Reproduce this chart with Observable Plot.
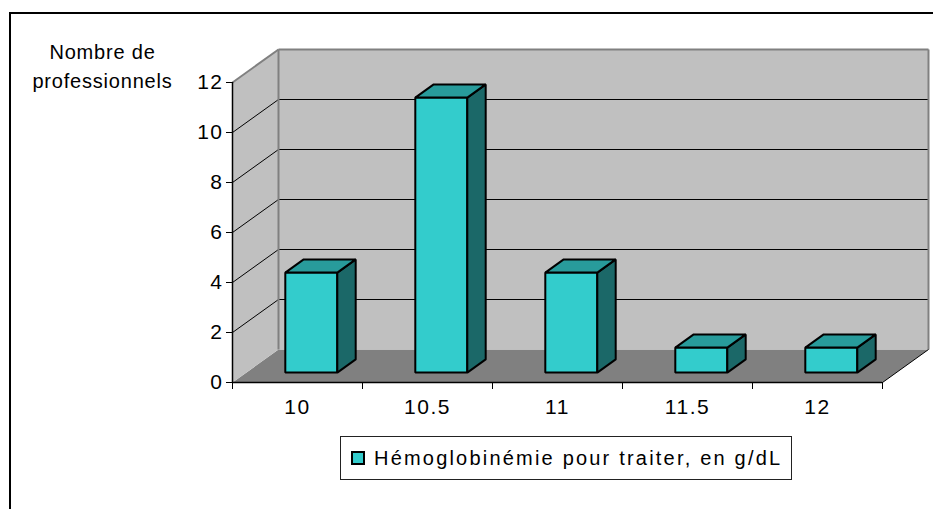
<!DOCTYPE html>
<html>
<head>
<meta charset="utf-8">
<script src="https://cdn.jsdelivr.net/npm/d3@7"></script>
<script src="https://cdn.jsdelivr.net/npm/@observablehq/plot@0.6"></script>
<style>
  html, body { margin: 0; padding: 0; background: #fff; overflow: hidden; }
  #wrap { position: relative; width: 933px; height: 509px; font-family: "Liberation Sans", Arial, sans-serif; }
  #frame { position: absolute; left: 9px; top: 12px; width: 1000px; height: 600px; border: 2px solid #000; box-sizing: border-box; }
  #chart { position: absolute; left: 0; top: 0; }
  #chart svg text { letter-spacing: 1.5px; font-size: 21px !important; }
  #ylabel { position: absolute; left: 20px; top: 38px; width: 165px; text-align: center; font-size: 20px; line-height: 29px; letter-spacing: 0.8px; color: #000; }
  #legend { position: absolute; left: 340px; top: 436px; width: 452px; height: 44px; box-sizing: border-box; border: 1px solid #222; background: #fff; display: flex; align-items: center; font-size: 20px; letter-spacing: 2.2px; color: #000; white-space: nowrap; }
  #legend .sw { width: 14px; height: 14px; box-sizing: border-box; border: 2px solid #000; background: #33CCCC; margin-left: 10px; margin-right: 9px; flex: none; }
</style>
</head>
<body>
<div id="wrap">
  <div id="frame"></div>
  <div id="chart"></div>
  <div id="ylabel"></div>
  <div id="legend"><span class="sw"></span><span id="legtext"></span></div>
</div>
<script>
// ---- data ----
const categories = ["10", "10.5", "11", "11.5", "12"];
const values = [4, 11, 4, 1, 1];
const yTicks = [0, 2, 4, 6, 8, 10, 12];
const seriesName = "Hémoglobinémie pour traiter, en g/dL";
const yTitle = ["Nombre de", "professionnels"];

document.getElementById("legtext").textContent = seriesName;
document.getElementById("ylabel").innerHTML = yTitle.join("<br>");

// ---- pseudo-3D projection constants (depth offsets, in data units) ----
const nCat = categories.length;
const yMax = yTicks[yTicks.length - 1];
const dX = 46 / 130;   // depth shift along x (fraction of a category slot)
const dY = 33 / 25;    // depth shift along y (in value units)
const f0 = 0.3, f1 = 0.7;  // bar depth span
const b0 = 0.3, b1 = 0.7;  // bar width span within slot

// walls & floor polygons
const floorPoly = [[0, 0], [nCat, 0], [nCat + dX, dY], [dX, dY]].map(([x, y]) => ({x, y}));
const leftWallPoly = [[0, 0], [dX, dY], [dX, yMax + dY], [0, yMax]].map(([x, y]) => ({x, y}));
const backWallPoly = [[dX, dY], [nCat + dX, dY], [nCat + dX, yMax + dY], [dX, yMax + dY]].map(([x, y]) => ({x, y}));

// bar faces
const frontFaces = [], sideFaces = [], topFaces = [];
values.forEach((v, i) => {
  const xl = i + b0, xr = i + b1;
  const p = (x, y, f) => ({x: x + f * dX, y: y + f * dY, id: i});
  frontFaces.push(p(xl, 0, f0), p(xr, 0, f0), p(xr, v, f0), p(xl, v, f0));
  sideFaces.push(p(xr, 0, f0), p(xr, 0, f1), p(xr, v, f1), p(xr, v, f0));
  topFaces.push(p(xl, v, f0), p(xr, v, f0), p(xr, v, f1), p(xl, v, f1));
});

const inner = yTicks.filter(t => t > 0 && t < yMax);
const slotEdges = d3.range(nCat + 1);
const slotCenters = d3.range(nCat).map(i => i + 0.5);

const chart = Plot.plot({
  width: 933,
  height: 430,
  marginLeft: 232,
  marginRight: 51,
  marginTop: 82,
  marginBottom: 48,
  style: {fontFamily: "'Liberation Sans', Arial, sans-serif", fontSize: "21px", color: "#000", background: "transparent", overflow: "visible"},
  x: {domain: [0, nCat], range: [232, 882]},
  y: {domain: [0, yMax]},
  marks: [
    // floor and walls
    Plot.line(floorPoly, {x: "x", y: "y", curve: "linear-closed", fill: "#808080", stroke: "none"}),
    Plot.line(leftWallPoly, {x: "x", y: "y", curve: "linear-closed", fill: "#c0c0c0", stroke: "none"}),
    Plot.line(backWallPoly, {x: "x", y: "y", curve: "linear-closed", fill: "#c0c0c0", stroke: "none"}),
    // gridlines
    Plot.link(inner, {x1: () => 0, y1: d => d, x2: () => dX, y2: d => d + dY, stroke: "#000", strokeWidth: 1}),
    Plot.link(inner, {x1: () => dX, y1: d => d + dY, x2: () => nCat + dX, y2: d => d + dY, stroke: "#000", strokeWidth: 1}),
    // wall edges (gray)
    Plot.link([yMax], {x1: () => 0, y1: d => d, x2: () => dX, y2: d => d + dY, stroke: "#808080", strokeWidth: 2}),
    Plot.link([yMax], {x1: () => dX, y1: d => d + dY, x2: () => nCat + dX, y2: d => d + dY, stroke: "#808080", strokeWidth: 2}),
    Plot.link([0], {x1: () => dX, y1: () => dY, x2: () => dX, y2: () => yMax + dY, stroke: "#808080", strokeWidth: 2}),
    Plot.link([0], {x1: () => nCat + dX, y1: () => dY, x2: () => nCat + dX, y2: () => yMax + dY, stroke: "#808080", strokeWidth: 2}),
    // floor right edge
    Plot.link([0], {x1: () => nCat, y1: () => 0, x2: () => nCat + dX, y2: () => dY, stroke: "#000", strokeWidth: 1}),
    // bars
    Plot.line(frontFaces, {x: "x", y: "y", z: "id", curve: "linear-closed", fill: "#33CCCC", stroke: "#000", strokeWidth: 2, strokeLinejoin: "miter"}),
    Plot.line(sideFaces, {x: "x", y: "y", z: "id", curve: "linear-closed", fill: "#1B6868", stroke: "#000", strokeWidth: 2, strokeLinejoin: "miter"}),
    Plot.line(topFaces, {x: "x", y: "y", z: "id", curve: "linear-closed", fill: "#289B9B", stroke: "#000", strokeWidth: 2, strokeLinejoin: "miter"}),
    // axes
    Plot.ruleX([0], {y1: 0, y2: yMax, stroke: "#000", strokeWidth: 1.5}),
    Plot.ruleY([0], {x1: 0, x2: nCat, stroke: "#000", strokeWidth: 1.5}),
    Plot.axisY({ticks: yTicks, tickSize: 6, tickPadding: 3, label: null}),
    Plot.axisX({ticks: slotEdges, tickSize: 7, tickFormat: () => "", label: null}),
    Plot.axisX({ticks: slotCenters, tickSize: 0, tickPadding: 17, tickFormat: d => categories[Math.round(d - 0.5)], label: null})
  ]
});
document.getElementById("chart").appendChild(chart);
</script>
</body>
</html>
